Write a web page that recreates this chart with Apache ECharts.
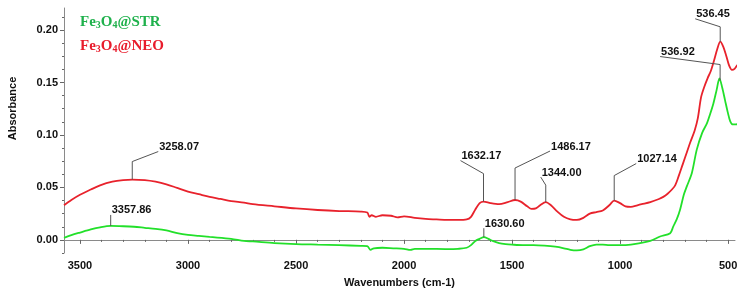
<!DOCTYPE html>
<html>
<head>
<meta charset="utf-8">
<script src="https://cdn.jsdelivr.net/npm/echarts@6/dist/echarts.min.js"></script>
<style>
  html, body { margin: 0; padding: 0; background: #fff; }
  #chart { width: 747px; height: 294px; }
</style>
</head>
<body>
<div id="chart"></div>
<script>
// Fe3O4@NEO spectrum: [wavenumber, absorbance]
const neoSpectrum = [
  [3574, 0.033], [3540, 0.038], [3500, 0.043], [3450, 0.048], [3407, 0.052], [3350, 0.0555],
  [3300, 0.057], [3258, 0.0575], [3200, 0.057], [3150, 0.0555], [3100, 0.053], [3050, 0.0495],
  [3000, 0.046], [2950, 0.0435], [2900, 0.041], [2850, 0.039], [2800, 0.037], [2741, 0.0355],
  [2700, 0.034], [2600, 0.032], [2500, 0.030], [2400, 0.0285], [2300, 0.0275], [2200, 0.027],
  [2170, 0.026], [2160, 0.022], [2150, 0.0235], [2130, 0.022], [2100, 0.0235], [2060, 0.023],
  [2030, 0.0215], [2000, 0.0225], [1950, 0.021], [1900, 0.020], [1850, 0.0195], [1800, 0.019],
  [1750, 0.019], [1710, 0.0195], [1690, 0.022], [1670, 0.029], [1650, 0.035], [1632, 0.0365],
  [1600, 0.035], [1560, 0.034], [1520, 0.036], [1486, 0.038], [1460, 0.0365], [1430, 0.032],
  [1410, 0.0295], [1390, 0.030], [1370, 0.033], [1344, 0.036], [1320, 0.033], [1290, 0.027],
  [1260, 0.022], [1230, 0.0195], [1200, 0.019], [1170, 0.021], [1140, 0.025], [1110, 0.0265],
  [1080, 0.028], [1050, 0.033], [1027, 0.0375], [1000, 0.035], [975, 0.032], [950, 0.0315],
  [920, 0.033], [900, 0.034], [860, 0.036], [820, 0.039], [800, 0.041], [780, 0.044],
  [760, 0.048], [745, 0.052], [730, 0.060], [710, 0.072], [690, 0.084], [675, 0.093],
  [655, 0.104], [640, 0.116], [625, 0.136], [610, 0.146], [595, 0.154], [580, 0.161],
  [565, 0.171], [550, 0.182], [536, 0.189], [522, 0.184], [508, 0.175], [495, 0.166],
  [482, 0.162], [470, 0.163], [455, 0.167], [440, 0.168], [420, 0.165], [400, 0.164]
];

// Fe3O4@STR spectrum: [wavenumber, absorbance]
const strSpectrum = [
  [3574, 0.002], [3540, 0.0045], [3500, 0.007], [3450, 0.010], [3407, 0.012], [3358, 0.0133],
  [3300, 0.013], [3250, 0.0125], [3200, 0.0115], [3150, 0.0105], [3100, 0.009], [3050, 0.0065],
  [3000, 0.0048], [2950, 0.0038], [2900, 0.0028], [2800, 0.001], [2741, -0.001], [2700, -0.0015],
  [2600, -0.003], [2500, -0.004], [2400, -0.0045], [2300, -0.005], [2200, -0.0057], [2170, -0.006],
  [2155, -0.0095], [2140, -0.008], [2100, -0.0075], [2050, -0.008], [2000, -0.0085], [1970, -0.0095],
  [1950, -0.0085], [1900, -0.0085], [1800, -0.0088], [1750, -0.0085], [1710, -0.0075], [1690, -0.005],
  [1670, -0.001], [1650, 0.001], [1630, 0.0026], [1610, 0.001], [1590, -0.001], [1560, -0.003],
  [1530, -0.004], [1500, -0.0045], [1450, -0.005], [1400, -0.005], [1350, -0.0055], [1300, -0.0065],
  [1260, -0.008], [1230, -0.0095], [1200, -0.010], [1170, -0.009], [1140, -0.006], [1110, -0.0045],
  [1080, -0.0045], [1050, -0.005], [1000, -0.005], [950, -0.0045], [907, -0.003], [860, -0.001],
  [815, 0.0032], [768, 0.0064], [754, 0.0127], [737, 0.020], [722, 0.029], [705, 0.043],
  [691, 0.051], [668, 0.0635], [645, 0.086], [620, 0.102], [598, 0.111], [583, 0.120],
  [568, 0.130], [553, 0.143], [540, 0.154], [527, 0.145], [514, 0.133], [502, 0.122],
  [490, 0.113], [478, 0.110], [467, 0.110], [440, 0.111], [420, 0.110], [400, 0.110]
];

const seriesNames = ['Fe3O4@STR', 'Fe3O4@NEO'];
const seriesColors = ['#22e02a', '#e8222c'];
const legendColors = ['#1fb14c', '#e81c2c'];

const xTickValues = [500, 1000, 1500, 2000, 2500, 3000, 3500];
const yTickValues = [0, 0.05, 0.10, 0.15, 0.20];

// peak annotations: series index, wavenumber, label
const peakSeries = [1, 0, 1, 1, 1, 1, 0, 1, 0];
const peakWavenumbers = [3258.07, 3357.86, 1632.17, 1486.17, 1344.00, 1027.14, 1630.60, 536.45, 536.92];
const peakLabels = ['3258.07', '3357.86', '1632.17', '1486.17', '1344.00', '1027.14', '1630.60', '536.45', '536.92'];
// leader line layout in px: vertical rise, then horizontal/vertical offset of the label anchor
const peakLeader = [
  [18, 26, 10], [11, 0, 0], [28, -23, 13], [32, 35, 17], [17, -5, 8],
  [25, 22, 12], [9, 0, 0], [15, -25, 8], [16, -60, 8]
];

const xMin = 468, xMax = 3574;
const yMin = -0.0125, yMax = 0.221;

const minorX = [];
for (let v = 500; v <= 3500; v += 100) minorX.push(v);
const minorY = [];
for (let i = -1; i <= 17; i++) minorY.push(+(i * 0.0125).toFixed(4));

const axisFont = { color: '#111', fontSize: 11, fontWeight: 'bold', fontFamily: 'Liberation Sans, Arial' };
const lineColor = '#8a8a8a';

const chart = echarts.init(document.getElementById('chart'));

const richLabel = {
  n: { fontSize: 15, fontFamily: 'Liberation Serif', fontWeight: 'bold', lineHeight: 18, verticalAlign: 'bottom' },
  s: { fontSize: 10, fontFamily: 'Liberation Serif', fontWeight: 'bold', lineHeight: 12, verticalAlign: 'bottom' },
};

chart.setOption({
  animation: false,
  backgroundColor: '#fff',
  grid: { left: 64, right: 12, top: 8, bottom: 41, outerBoundsMode: 'none' },
  legend: {
    orient: 'vertical',
    left: 70,
    top: 10,
    itemGap: 9,
    icon: 'none',
    itemWidth: 0,
    itemHeight: 0,
    selectedMode: false,
    data: seriesNames.map((name, i) => ({ name, textStyle: { color: legendColors[i] } })),
    formatter: (name) => {
      const suffix = name.split('@')[1];
      return `{n|Fe}{s|3}{n|O}{s|4}{n|@${suffix}}`;
    },
    textStyle: { rich: richLabel },
  },
  xAxis: [
    {
      type: 'value',
      inverse: true,
      min: xMin,
      max: xMax,
      name: 'Wavenumbers (cm-1)',
      nameLocation: 'middle',
      nameGap: 24,
      nameTextStyle: axisFont,
      axisLine: { lineStyle: { color: lineColor, width: 1 } },
      axisTick: { customValues: xTickValues, length: 4, lineStyle: { color: '#666' } },
      axisLabel: { customValues: xTickValues, margin: 7, ...axisFont, formatter: (v) => String(v) },
      splitLine: { show: false },
    },
    {
      type: 'value',
      inverse: true,
      min: xMin,
      max: xMax,
      position: 'bottom',
      axisLine: { show: false },
      axisTick: { customValues: minorX, length: 2, lineStyle: { color: '#666' } },
      axisLabel: { show: false },
      splitLine: { show: false },
    },
  ],
  yAxis: [
    {
      type: 'value',
      min: yMin,
      max: yMax,
      name: 'Absorbance',
      nameLocation: 'middle',
      nameGap: 46,
      nameTextStyle: { ...axisFont, padding: [0, 0, 0, 44] },
      axisLine: { show: true, lineStyle: { color: lineColor, width: 1 } },
      axisTick: { show: true, customValues: yTickValues, length: 4, lineStyle: { color: '#666' } },
      axisLabel: { customValues: yTickValues, margin: 6, ...axisFont, formatter: (v) => v.toFixed(2) },
      splitLine: { show: false },
    },
    {
      type: 'value',
      min: yMin,
      max: yMax,
      position: 'left',
      offset: 0,
      axisLine: { show: false },
      axisTick: { show: true, customValues: minorY, length: 2, lineStyle: { color: '#666' } },
      axisLabel: { show: false },
      splitLine: { show: false },
    },
  ],
  series: [
    {
      name: seriesNames[0],
      type: 'line',
      data: strSpectrum,
      showSymbol: false,
      smooth: 0.3,
      clip: false,
      lineStyle: { color: seriesColors[0], width: 1.8 },
      itemStyle: { color: seriesColors[0] },
    },
    {
      name: seriesNames[1],
      type: 'line',
      data: neoSpectrum,
      showSymbol: false,
      smooth: 0.3,
      clip: false,
      lineStyle: { color: seriesColors[1], width: 1.8 },
      itemStyle: { color: seriesColors[1] },
    },
  ],
});

// absorbance of a spectrum at a wavenumber, read from its own points
const valueAt = (spectrum, wn) => {
  for (let i = 0; i < spectrum.length - 1; i++) {
    const [x0, y0] = spectrum[i];
    const [x1, y1] = spectrum[i + 1];
    if (wn <= x0 && wn >= x1) {
      return y0 + (y1 - y0) * (x0 - wn) / (x0 - x1);
    }
  }
  return spectrum[spectrum.length - 1][1];
};

const spectra = [strSpectrum, neoSpectrum];
const graphics = [];
peakWavenumbers.forEach((wn, i) => {
  const val = valueAt(spectra[peakSeries[i]], wn);
  const [px, py] = chart.convertToPixel({ xAxisIndex: 0, yAxisIndex: 0 }, [wn, val]);
  const [rise, dx, dy] = peakLeader[i];
  const ex = px + dx;
  const ey = py - rise - dy;
  graphics.push({
    type: 'polyline',
    shape: { points: [[px, py], [px, py - rise], [ex, ey]] },
    style: { stroke: '#555', lineWidth: 1, fill: null },
    z: 10,
  });
  graphics.push({
    type: 'text',
    x: ex + 1,
    y: ey - 4.5,
    style: {
      text: peakLabels[i],
      fill: '#111',
      font: 'bold 11px "Liberation Sans", Arial',
      verticalAlign: 'middle',
      align: 'left',
    },
    z: 11,
  });
});
chart.setOption({ graphic: graphics });

window.addEventListener('resize', () => chart.resize());
</script>
</body>
</html>
